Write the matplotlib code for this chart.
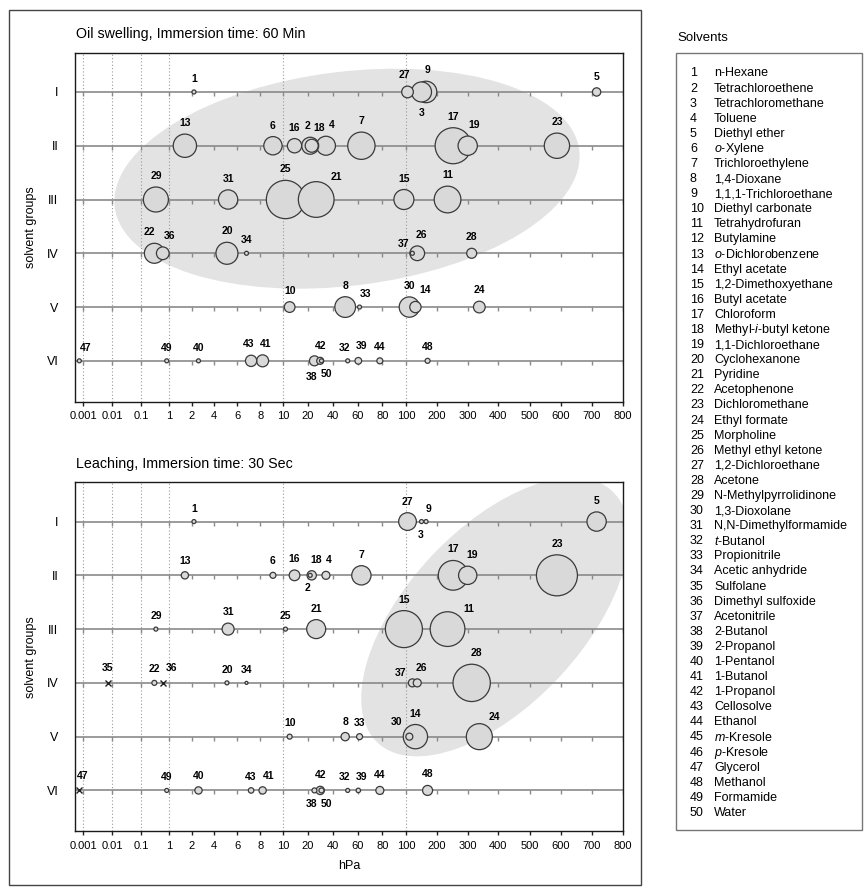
import numpy as np
import matplotlib
matplotlib.use('agg')
import matplotlib.pyplot as plt
from matplotlib import patches, transforms

plt.rcParams['font.family'] = ['Liberation Sans', 'DejaVu Sans']
plt.rcParams['mathtext.fontset'] = 'custom'
plt.rcParams['mathtext.rm'] = 'Liberation Sans'
plt.rcParams['mathtext.it'] = 'Liberation Sans:italic'

# ---- data -------------------------------------------------------------
solvents = [
    "n-Hexane", "Tetrachloroethene", "Tetrachloromethane", "Toluene",
    "Diethyl ether", r"$\mathit{o}$-Xylene", "Trichloroethylene", "1,4-Dioxane",
    "1,1,1-Trichloroethane", "Diethyl carbonate", "Tetrahydrofuran", "Butylamine",
    r"$\mathit{o}$-Dichlorobenzene", "Ethyl acetate", "1,2-Dimethoxyethane",
    "Butyl acetate", "Chloroform", r"Methyl-$\mathit{i}$-butyl ketone",
    "1,1-Dichloroethane", "Cyclohexanone", "Pyridine", "Acetophenone",
    "Dichloromethane", "Ethyl formate", "Morpholine", "Methyl ethyl ketone",
    "1,2-Dichloroethane", "Acetone", "N-Methylpyrrolidinone", "1,3-Dioxolane",
    "N,N-Dimethylformamide", r"$\mathit{t}$-Butanol", "Propionitrile",
    "Acetic anhydride", "Sulfolane", "Dimethyl sulfoxide", "Acetonitrile",
    "2-Butanol", "2-Propanol", "1-Pentanol", "1-Butanol", "1-Propanol",
    "Cellosolve", "Ethanol", r"$\mathit{m}$-Kresole", r"$\mathit{p}$-Kresole",
    "Glycerol", "Methanol", "Formamide", "Water",
]

groups = ["I", "II", "III", "IV", "V", "VI"]

# solvent number -> group (1 = I ... 6 = VI)
solvent_group = {
    1: 1, 3: 1, 5: 1, 9: 1, 27: 1,
    2: 2, 4: 2, 6: 2, 7: 2, 13: 2, 16: 2, 17: 2, 18: 2, 19: 2, 23: 2,
    11: 3, 15: 3, 21: 3, 25: 3, 29: 3, 31: 3,
    20: 4, 22: 4, 26: 4, 28: 4, 34: 4, 35: 4, 36: 4, 37: 4,
    8: 5, 10: 5, 14: 5, 24: 5, 30: 5, 33: 5,
    32: 6, 38: 6, 39: 6, 40: 6, 41: 6, 42: 6, 43: 6, 44: 6, 47: 6, 48: 6,
    49: 6, 50: 6,
}

# solvent number -> hPa
hpa = {
    1: 2.2, 2: 22, 3: 150, 4: 34.6, 5: 715, 6: 9.1, 7: 63, 8: 50, 9: 165,
    10: 12.6, 11: 235, 13: 1.7, 14: 130, 15: 98, 16: 14.6, 17: 253,
    18: 23.2, 19: 300, 20: 5.1, 21: 26.8, 22: 0.3, 23: 587, 24: 338,
    25: 10.9, 26: 136, 27: 104, 28: 313, 29: 0.34, 30: 110, 31: 5.2,
    32: 52, 33: 61.5, 34: 6.8, 35: 0.007, 36: 0.6, 37: 120, 38: 25.4,
    39: 60.5, 40: 2.6, 41: 8.2, 42: 30, 43: 7.2, 44: 78, 47: 0.00073,
    48: 170, 49: 0.83, 50: 31,
}

# bubble diameters (relative effect) for each experiment
swell_size = {
    1: 4, 27: 11.7, 3: 20, 9: 21.5, 5: 8.3,
    13: 23.3, 6: 18.3, 16: 14.3, 2: 17, 18: 13, 4: 19, 7: 27.3, 17: 36,
    19: 19.3, 23: 25.3,
    29: 25, 31: 19.3, 25: 38.3, 21: 35.7, 15: 20, 11: 26.7,
    22: 20, 36: 12.7, 20: 22, 34: 4, 37: 4, 26: 14.7, 28: 10,
    10: 10.7, 8: 20.7, 33: 4, 30: 20.3, 14: 11.3, 24: 11.7,
    47: 4, 49: 4, 40: 4, 43: 11.3, 41: 12, 38: 10, 42: 7, 50: 4, 32: 4,
    39: 6.7, 44: 6, 48: 5,
}
leach_size = {
    1: 4, 27: 17.7, 3: 4, 9: 4, 5: 19.3,
    13: 7.3, 6: 6, 16: 10.7, 18: 9.3, 2: 4, 4: 8, 7: 19.3, 17: 29.7,
    19: 18.3, 23: 41,
    29: 4, 31: 12, 25: 4, 21: 19, 15: 37, 11: 34.7,
    22: 5, 20: 4, 34: 3, 37: 8, 26: 8, 28: 37.3,
    10: 5, 8: 8.3, 33: 6, 30: 7, 14: 24.3, 24: 26,
    49: 4, 40: 7.3, 43: 5.5, 41: 7.3, 38: 5, 42: 8.3, 50: 5, 32: 4,
    39: 4.5, 44: 8, 48: 10,
}
leach_cross = [35, 36, 47]

tick_values = [0.001, 0.01, 0.1, 1, 2, 4, 6, 8, 10, 20, 40, 60, 80, 100,
               200, 300, 400, 500, 600, 700, 800]
tick_labels = ["0.001", "0.01", "0.1", "1", "2", "4", "6", "8", "10", "20",
               "40", "60", "80", "100", "200", "300", "400", "500", "600",
               "700", "800"]

# ---- layout -------------------------------------------------------------
W, H, DPI = 868, 890, 100
AX_W, AX_H = 548.0, 349.0
PX = 0.72  # points per pixel at 100 dpi

# broken x scale: log below 1, linear pieces above (tick position in px)
SCALE_T = [-4, -3, -2, -1, 0, 1, 3, 5, 7, 9, 19, 39, 59, 79, 99, 199, 299,
           399, 499, 599, 699, 799, 899]
SCALE_P = [-20.7, 8.3, 37.3, 66, 94, 116.7, 139.3, 162.3, 185.3, 208.3,
           232.7, 257.7, 282.7, 307.3, 331.3, 361.7, 392.7, 423.3, 454.7,
           486, 517, 547.7, 578.4]


def _t(v):
    v = np.asarray(v, float)
    lg = np.log10(np.clip(v, 1e-12, None))
    return np.where(v < 1, lg, v - 1)


def fwd(v):
    return np.interp(_t(v), SCALE_T, SCALE_P)


def inv(p):
    t = np.interp(p, SCALE_P, SCALE_T)
    return np.where(t < 0, 10.0 ** np.minimum(t, 0), t + 1)


swell_nudge = {27: (-3, 0), 9: (1, 0), 18: (7, 0), 2: (-3, 0), 4: (6, 0),
               19: (6, 0), 21: (20, -6.5), 22: (-5, 0), 36: (7, 0),
               37: (-9, -4), 26: (4, 0), 33: (6, 0), 14: (10, 0), 47: (6, 0),
               43: (-2, 0), 41: (3, 0), 38: (-3, 0), 50: (5, 0), 32: (-3, 0),
               39: (3, 0)}
swell_below = {3, 38, 50}
leach_nudge = {9: (2, 0), 3: (-1, 0), 18: (4, 0), 2: (-2.4, 0), 4: (2.6, 0),
               19: (4, 0), 11: (21.6, -8.6), 36: (9, 0), 37: (-12, -5),
               26: (4, 0), 28: (5, 0), 30: (-13, 0), 24: (15, -4), 47: (3, 0),
               41: (6, 0), 38: (-3.3, 0), 50: (5, 0), 32: (-3, 0), 39: (3, 0)}
leach_below = {3, 2, 38, 50}


def draw_panel(ax, title, sizes, nudge, below, ellipse, crosses=()):
    ax.set_xscale('function', functions=(fwd, inv))
    ax.set_xlim(inv(0.0), inv(AX_W))
    ax.set_ylim(6.76, 0.27)

    cx, cy, ew, eh, ang = ellipse
    tr = transforms.Affine2D().scale(1 / AX_W, 1 / AX_H) + ax.transAxes
    ax.add_patch(patches.Ellipse((cx, cy), ew, eh, angle=ang, transform=tr,
                                 fc='#e3e3e3', ec='none', zorder=0))

    for v in [0.001, 0.01, 0.1, 1, 10, 100]:
        ax.axvline(v, color='#999999', lw=0.8, ls=(0, (1, 2)), zorder=1)
    for g in range(1, 7):
        ax.axhline(g, color='#8a8a8a', lw=1.2, zorder=2)
        ax.plot(tick_values, [g] * len(tick_values), ls='none', marker=3,
                ms=3, mew=1, color='#8a8a8a', zorder=2)

    ids = sorted(sizes, key=lambda k: -sizes[k])
    ax.scatter([hpa[i] for i in ids], [solvent_group[i] for i in ids],
               s=[(sizes[i] * PX) ** 2 for i in ids], c='#d9d9d9',
               edgecolors='#3a3a3a', linewidths=0.9, zorder=3)
    if crosses:
        ax.scatter([hpa[i] for i in crosses],
                   [solvent_group[i] for i in crosses],
                   marker='x', s=(6 * PX) ** 2, c='#222222', linewidths=1,
                   zorder=3)

    for i in list(ids) + list(crosses):
        r = sizes[i] / 2 if i in sizes else 3.5
        dx, dy = nudge.get(i, (0, 0))
        oy = -(r + 11) if i in below else r + 11
        ax.annotate(str(i), (hpa[i], solvent_group[i]),
                    xytext=(dx * PX, (oy + dy) * PX),
                    textcoords='offset points', ha='center', va='center',
                    fontsize=7.5, fontweight='bold', zorder=4)

    ax.set_xticks(tick_values)
    ax.set_xticklabels(tick_labels)
    ax.minorticks_off()
    ax.set_yticks(range(1, 7))
    ax.set_yticklabels(groups)
    ax.tick_params(axis='x', direction='out', length=3, width=1,
                   labelsize=8, pad=4, color='#222222')
    ax.tick_params(axis='y', length=0, labelsize=9, pad=12)
    for sp in ax.spines.values():
        sp.set_linewidth(1.0)
        sp.set_color('#1a1a1a')
    ax.set_ylabel('solvent groups', fontsize=9)
    ax.yaxis.set_label_coords(-0.070, 0.5)
    ax.text(0.002, 1.0527, title, transform=ax.transAxes, fontsize=10.3,
            ha='left', va='center')


fig = plt.figure(figsize=(W / DPI, H / DPI), dpi=DPI)
ax1 = fig.add_axes([75 / W, (H - 401.7) / H, AX_W / W, AX_H / H])
ax2 = fig.add_axes([75 / W, (H - 831.3) / H, AX_W / W, AX_H / H])

draw_panel(ax1, 'Oil swelling, Immersion time: 60 Min', swell_size,
           swell_nudge, swell_below, (272, 223, 468, 214, 7))
draw_panel(ax2, 'Leaching, Immersion time: 30 Sec', leach_size,
           leach_nudge, leach_below, (420, 214.3, 344, 176, 47),
           crosses=leach_cross)

fig.text(349 / W, 1 - 866 / H, 'hPa', ha='center', va='center', fontsize=9)

# outer frame round the charts
fig.add_artist(patches.Rectangle((9 / W, 1 - 885 / H), 632 / W, 875 / H,
                                 transform=fig.transFigure, fill=False,
                                 ec='#444444', lw=1))

# solvent list
fig.text(677 / W, 1 - 38 / H, 'Solvents', fontsize=9.5, va='center')
fig.add_artist(patches.Rectangle((676 / W, 1 - 830 / H), 186 / W,
                                 (830 - 52.7) / H, transform=fig.transFigure,
                                 fill=False, ec='#777777', lw=1))
for k, name in enumerate(solvents):
    y = 1 - (73.5 + k * 15.09) / H
    fig.text(690 / W, y, str(k + 1), fontsize=9, va='center')
    fig.text(714 / W, y, name, fontsize=9, va='center')

fig.savefig('out.png', dpi=DPI)
